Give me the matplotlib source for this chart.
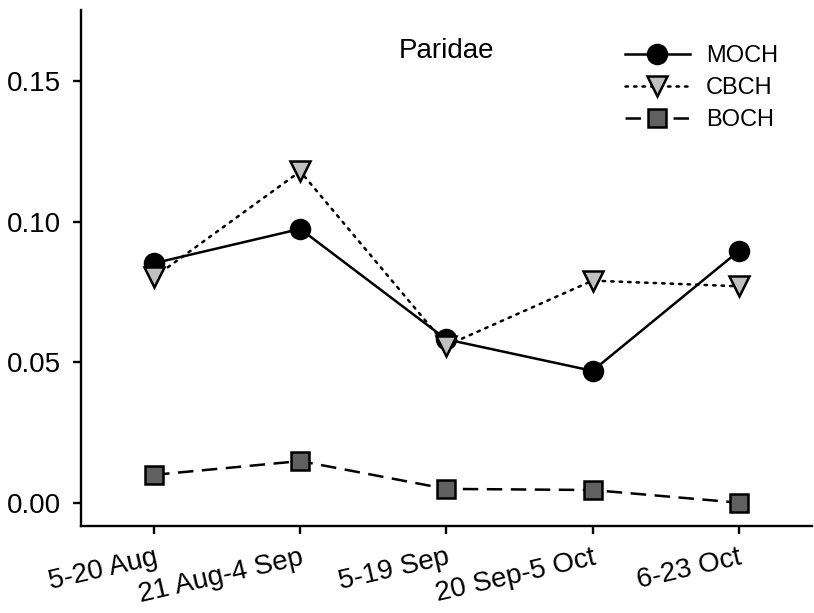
import matplotlib
matplotlib.use('Agg')
import matplotlib.pyplot as plt

plt.rcParams['font.family'] = ['Liberation Sans', 'DejaVu Sans']

# Capture rates per period for the three chickadee species
periods = ['5-20 Aug', '21 Aug-4 Sep', '5-19 Sep', '20 Sep-5 Oct', '6-23 Oct']
moch = [0.0852, 0.0974, 0.0581, 0.0469, 0.0895]
cbch = [0.0802, 0.1179, 0.0559, 0.0790, 0.0770]
boch = [0.0099, 0.0148, 0.0049, 0.0045, 0.0000]
yticks = [0.00, 0.05, 0.10, 0.15]

fig = plt.figure(figsize=(8.14, 6.13), dpi=100)
ax = fig.add_axes([0.0995, 0.1424, 0.8977, 0.8413])

x = list(range(len(periods)))
ax.plot(x, moch, color='black', lw=1.8, marker='o', ms=14,
        mfc='black', mec='black', mew=1.5, label='MOCH')
ax.plot(x, cbch, color='black', lw=1.8, linestyle=(0, (1, 2.4)),
        dash_capstyle='round', marker='v', ms=14.5,
        mfc='#c0c0c0', mec='black', mew=1.8, label='CBCH')
ax.plot(x, boch, color='black', lw=1.8, linestyle=(0, (6.2, 3.4)),
        marker='s', ms=13, mfc='#606060', mec='black', mew=1.8,
        label='BOCH')

ax.set_xlim(-0.5, 4.5)
ax.set_ylim(-0.0082, 0.1753)
ax.set_xticks(x)
ax.set_xticklabels(periods, rotation=13, ha='right', va='top',
                   rotation_mode='anchor', fontsize=20)
ax.set_yticks(yticks)
ax.set_yticklabels([f'{v:.2f}' for v in yticks], fontsize=20)

for side in ['top', 'right']:
    ax.spines[side].set_visible(False)
for side in ['left', 'bottom']:
    ax.spines[side].set_linewidth(1.7)
ax.tick_params(axis='both', direction='out', length=5.5, width=1.7)
ax.tick_params(axis='y', pad=9)
ax.tick_params(axis='x', pad=8)

ax.text(0.5, 0.907, 'Paridae', ha='center', va='baseline',
        fontsize=20, transform=ax.transAxes)

ax.legend(loc='upper left', bbox_to_anchor=(625 / 814, 1 - 45 / 613),
          bbox_transform=fig.transFigure, frameon=False, fontsize=17,
          borderpad=0, borderaxespad=0, handlelength=2.75,
          handletextpad=0.68, labelspacing=0.42)

fig.savefig('out.png', dpi=100)
